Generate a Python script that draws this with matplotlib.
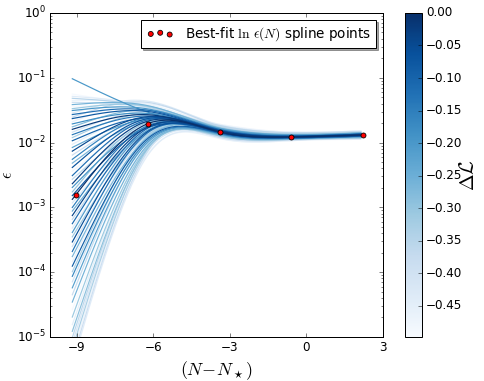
import numpy as np
import matplotlib
matplotlib.use("Agg")
import matplotlib.pyplot as plt
from matplotlib.ticker import FuncFormatter

plt.style.use("classic")

# knot positions of the ln eps(N) spline (x of the red points)
knot_N = [-9.04, -6.22, -3.39, -0.61, 2.22]

# best-fit spline points (red dots)
best_eps = [1.55e-3, 1.94e-2, 1.46e-2, 1.22e-2, 1.31e-2]

# sampled splines: log10(eps) at each knot, and their Delta L
log_eps_k1 = [-5.25, -5.18, -5.10, -5.02, -4.93, -4.85, -4.76, -4.66, -4.55, -4.44,
              -4.33, -4.22, -4.12, -4.03, -3.95, -3.88, -3.80, -3.73, -3.66, -3.58,
              -3.51, -3.44, -3.37, -3.30, -3.24, -3.17, -3.11, -3.05, -2.99, -2.93,
              -2.87, -2.81, -2.76, -2.70, -2.64, -2.58, -2.52, -2.46, -2.40, -2.34,
              -2.28, -2.22, -2.16, -2.10, -2.05, -2.00, -1.95, -1.90, -1.86, -1.82,
              -1.78, -1.74, -1.70, -1.66, -1.62, -1.59, -1.56, -1.53, -1.50, -1.47,
              -1.44, -1.41, -1.38, -1.35, -1.32, -1.29, -1.26, -1.04]
log_eps_k2 = [-2.20, -2.14, -2.18, -2.10, -2.13, -2.06, -2.09, -2.02, -2.07, -1.98,
              -2.04, -1.96, -2.00, -1.93, -1.97, -1.90, -1.94, -1.87, -1.92, -1.85,
              -1.91, -1.83, -1.88, -1.81, -1.86, -1.78, -1.84, -1.76, -1.82, -1.74,
              -1.80, -1.71, -1.77, -1.69, -1.75, -1.67, -1.73, -1.65, -1.70, -1.63,
              -1.68, -1.61, -1.66, -1.60, -1.64, -1.57, -1.62, -1.55, -1.59, -1.52,
              -1.57, -1.50, -1.55, -1.40, -1.52, -1.38, -1.50, -1.36, -1.48, -1.44,
              -1.46, -1.43, -1.46, -1.41, -1.45, -1.43, -1.46, -1.53]
log_eps_k3 = [-1.92, -1.76, -1.94, -1.78, -1.91, -1.74, -1.89, -1.73, -1.90, -1.72,
              -1.88, -1.76, -1.87, -1.75, -1.86, -1.78, -1.85, -1.93, -1.79, -1.85,
              -1.91, -1.84, -1.78, -1.87, -1.74, -1.82, -1.90, -1.84, -1.79, -1.86,
              -1.75, -1.836, -1.83, -1.89, -1.80, -1.84, -1.77, -1.85, -1.72, -1.82,
              -1.88, -1.81, -1.92, -1.83, -1.78, -1.73, -1.82, -1.77, -1.81, -1.74,
              -1.82, -1.78, -1.80, -1.73, -1.81, -1.75, -1.80, -1.74, -1.79, -1.77,
              -1.72, -1.78, -1.75, -1.73, -1.76, -1.74, -1.72, -1.80]
log_eps_k4 = [-1.96, -1.86, -1.97, -1.88, -1.95, -1.85, -1.94, -1.84, -1.95, -1.84,
              -1.94, -1.87, -1.93, -1.86, -1.93, -1.88, -1.92, -1.97, -1.89, -1.93,
              -1.96, -1.92, -1.88, -1.94, -1.86, -1.91, -1.95, -1.91, -1.89, -1.93,
              -1.86, -1.914, -1.91, -1.95, -1.89, -1.92, -1.87, -1.93, -1.84, -1.91,
              -1.94, -1.90, -1.96, -1.92, -1.88, -1.85, -1.91, -1.87, -1.90, -1.85,
              -1.91, -1.88, -1.90, -1.85, -1.90, -1.86, -1.90, -1.85, -1.89, -1.87,
              -1.84, -1.88, -1.86, -1.85, -1.87, -1.85, -1.84, -1.90]
log_eps_k5 = [-1.93, -1.84, -1.95, -1.85, -1.92, -1.83, -1.91, -1.82, -1.93, -1.82,
              -1.91, -1.85, -1.90, -1.84, -1.90, -1.86, -1.89, -1.94, -1.86, -1.90,
              -1.93, -1.88, -1.85, -1.91, -1.83, -1.88, -1.93, -1.88, -1.86, -1.90,
              -1.84, -1.883, -1.88, -1.92, -1.86, -1.89, -1.85, -1.90, -1.82, -1.87,
              -1.91, -1.87, -1.94, -1.89, -1.85, -1.82, -1.88, -1.85, -1.87, -1.83,
              -1.88, -1.85, -1.87, -1.83, -1.87, -1.84, -1.87, -1.83, -1.86, -1.85,
              -1.82, -1.86, -1.84, -1.83, -1.85, -1.83, -1.82, -1.87]
delta_L = [-0.44, -0.39, -0.47, -0.33, -0.42, -0.36, -0.29, -0.45, -0.31, -0.49,
           -0.26, -0.38, -0.22, -0.41, -0.17, -0.34, -0.09, -0.46, -0.27, -0.13,
           -0.40, -0.06, -0.32, -0.21, -0.44, -0.11, -0.37, -0.04, -0.25, -0.15,
           -0.43, 0.00, -0.08, -0.30, -0.19, -0.03, -0.36, -0.12, -0.48, -0.07,
           -0.27, -0.16, -0.39, -0.05, -0.23, -0.45, -0.10, -0.33, -0.14, -0.41,
           -0.02, -0.28, -0.18, -0.46, -0.08, -0.37, -0.12, -0.43, -0.20, -0.31,
           -0.49, -0.26, -0.40, -0.47, -0.35, -0.44, -0.49, -0.20]

cbar_ticks = [-0.45, -0.40, -0.35, -0.30, -0.25, -0.20, -0.15, -0.10, -0.05, 0.0]

N_range = (-9.17, 2.13)


def natural_spline(xk, yk, x):
    xk = np.asarray(xk, float)
    yk = np.asarray(yk, float)
    n = len(xk)
    h = np.diff(xk)
    A = np.zeros((n, n))
    r = np.zeros(n)
    A[0, 0] = A[-1, -1] = 1.0
    for i in range(1, n - 1):
        A[i, i - 1] = h[i - 1]
        A[i, i] = 2 * (h[i - 1] + h[i])
        A[i, i + 1] = h[i]
        r[i] = 3 * ((yk[i + 1] - yk[i]) / h[i] - (yk[i] - yk[i - 1]) / h[i - 1])
    c = np.linalg.solve(A, r)
    b = (yk[1:] - yk[:-1]) / h - h * (2 * c[:-1] + c[1:]) / 3
    d = (c[1:] - c[:-1]) / (3 * h)
    idx = np.clip(np.searchsorted(xk, x) - 1, 0, n - 2)
    dx = x - xk[idx]
    return yk[idx] + b[idx] * dx + c[idx] * dx**2 + d[idx] * dx**3


fig = plt.figure(figsize=(484 / 72, 381 / 72), dpi=72, facecolor="white")
ax = fig.add_axes([0.103, 0.1155, 0.688, 0.8505])
cax = fig.add_axes([0.837, 0.1155, 0.035, 0.8505])

cmap = plt.get_cmap("Blues")
norm = matplotlib.colors.Normalize(vmin=-0.498, vmax=0.0)

N = np.linspace(N_range[0], N_range[1], 300)
order = np.argsort(delta_L, kind="stable")
for i in order:
    knots = [log_eps_k1[i], log_eps_k2[i], log_eps_k3[i], log_eps_k4[i], log_eps_k5[i]]
    y = natural_spline(knot_N, knots, N)
    ax.plot(N, 10**y, color=cmap(norm(delta_L[i])), lw=1.2)

ax.scatter(knot_N, best_eps, s=25, c="red", edgecolors="black", linewidths=0.8,
           zorder=5, label=r"Best-fit $\ln\,\epsilon(N)$ spline points")

ax.set_yscale("log")
ax.set_ylim(1e-5, 1e0)
ax.set_xlim(-10.05, 3.0)
ax.set_xticks([-9, -6, -3, 0, 3])
ax.set_xlabel(r"$(N\!-\!N_\star)$", fontsize=18)
ax.set_ylabel(r"$\epsilon$", fontsize=16)
ax.yaxis.set_label_coords(-0.105, 0.5)
ax.legend(loc="upper right", shadow=True, scatterpoints=3, fontsize=13.5)

sm = matplotlib.cm.ScalarMappable(norm=norm, cmap=cmap)
sm.set_array([])
cb = fig.colorbar(sm, cax=cax, ticks=cbar_ticks)
cb.ax.yaxis.set_major_formatter(
    FuncFormatter(lambda v, p: ("%.2f" % (0.0 if abs(v) < 1e-9 else v)).replace("-", "\u2212")))
cb.set_label(r"$\Delta\mathcal{L}$", fontsize=20, labelpad=-3)

fig.savefig("out.png", dpi=72, facecolor="white")
